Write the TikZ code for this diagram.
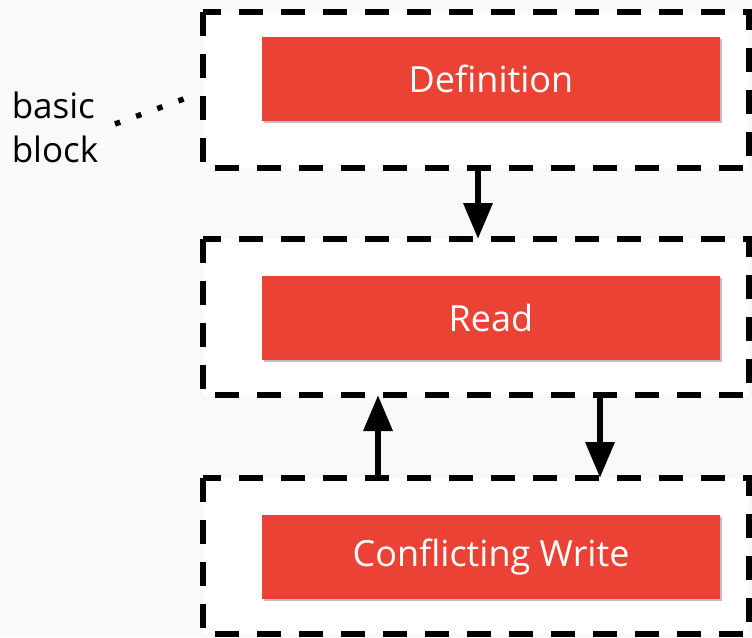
\documentclass[tikz,border=0pt]{standalone}
\usepackage{fontspec}
\setmainfont{Open Sans}
\usetikzlibrary{arrows.meta,shadows}
\definecolor{pagebg}{HTML}{F8F9FA}
\definecolor{blockred}{HTML}{EA4335}
\tikzset{
  blockframe/.style={draw=black, line width=6pt, dash pattern=on 24pt off 18pt, fill=white},
  stmtbox/.style={fill=blockred, draw=none, minimum width=458pt, minimum height=84pt,
    text=white, font=\fontsize{36}{40}\selectfont,
    drop shadow={shadow xshift=1.5pt, shadow yshift=-2pt, opacity=0.25, fill=black}},
  flow/.style={line width=6.5pt, -{Triangle[length=36pt, width=28pt]}},
  note/.style={font=\fontsize{35}{44}\selectfont, align=left, text=black},
}
\begin{document}
\begin{tikzpicture}[x=1pt,y=-1pt]
  \useasboundingbox[fill=pagebg] (0,0) rectangle (752,637);

  % dashed basic-block frames
  \draw[blockframe] (203,12) rectangle (749,168);
  \draw[blockframe] (203,239) rectangle (749,395);
  \draw[blockframe] (203,478) rectangle (749,634);
  \coordinate (b1s) at (478,168);
  \coordinate (b2n) at (478,239);
  \coordinate (b2sl) at (378,395);
  \coordinate (b3nl) at (378,478);
  \coordinate (b2sr) at (600,395);
  \coordinate (b3nr) at (600,478);

  % statements
  \node[stmtbox] (def) at (491,79) {Definition};
  \node[stmtbox] (read) at (491,318) {Read};
  \node[stmtbox] (write) at (491,557) {Conflicting Write};

  % control flow between blocks
  \draw[flow] (b1s) -- (b2n);
  \draw[flow] (b3nl) -- (b2sl);
  \draw[flow] (b2sr) -- (b3nr);

  % label for the frames
  \node[note] (lbl) at (55,127) {basic\\block};
  \coordinate (lblend) at (192,96);
  \draw[line width=5.5pt, dash pattern=on 5.5pt off 17pt] (115,124) -- (lblend);
\end{tikzpicture}
\end{document}
